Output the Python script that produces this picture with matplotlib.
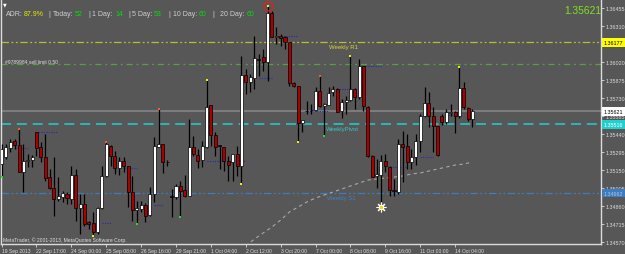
import matplotlib
matplotlib.use("Agg")
import matplotlib.pyplot as plt
import numpy as np
from matplotlib.transforms import blended_transform_factory

plt.rcParams['font.family'] = ['Liberation Sans', 'DejaVu Sans']

# ---------------- data (EURUSD-like H4 candles) ----------------
opens = [1.35196, 1.35251, 1.35323, 1.35380, 1.35352, 1.35134, 1.35221, 1.35229, 1.35452, 1.35331,
         1.35251, 1.35089, 1.35003, 1.34914, 1.34928, 1.34952, 1.34914, 1.35108, 1.34839, 1.34874,
         1.34726, 1.34718, 1.34645, 1.34839, 1.35097, 1.35344, 1.35263, 1.35162, 1.35218, 1.35178,
         1.34968, 1.34825, 1.34833, 1.34866, 1.34785, 1.34952, 1.35336, 1.35358, 1.35210, 1.34941,
         1.34928, 1.35016, 1.34987, 1.34936, 1.35331, 1.35269, 1.35231, 1.35334, 1.35673, 1.35431,
         1.35350, 1.35336, 1.35218, 1.35210, 1.35277, 1.35183, 1.35915, 1.35856, 1.35888, 1.36044,
         1.36058, 1.36017, 1.36415, 1.36224, 1.36227, 1.36224, 1.36179, 1.35850, 1.35824, 1.35525,
         1.35624, 1.35630, 1.35632, 1.35788, 1.35665, 1.35675, 1.35775, 1.35802, 1.35627, 1.35699,
         1.35713, 1.35802, 1.35735, 1.35990, 1.35654, 1.35263, 1.35102, 1.35110, 1.35223, 1.35175,
         1.34987, 1.34973, 1.35358, 1.35339, 1.35210, 1.35251, 1.35385, 1.35586, 1.35686, 1.35581,
         1.35501, 1.35586, 1.35533, 1.35608, 1.35614, 1.35581, 1.35810, 1.35646, 1.35560]
highs = [1.35358, 1.35358, 1.35398, 1.35398, 1.35479, 1.35358, 1.35277, 1.35269, 1.35457, 1.35372,
         1.35439, 1.35156, 1.35251, 1.35089, 1.34981, 1.34968, 1.35178, 1.35156, 1.34954, 1.34954,
         1.34739, 1.34807, 1.34847, 1.35183, 1.35376, 1.35350, 1.35304, 1.35251, 1.35251, 1.35178,
         1.35102, 1.34900, 1.34900, 1.34882, 1.35008, 1.35412, 1.35640, 1.35358, 1.35231, 1.34995,
         1.35035, 1.35062, 1.35108, 1.35560, 1.35425, 1.35318, 1.35385, 1.35874, 1.35673, 1.35452,
         1.35352, 1.35336, 1.35263, 1.35277, 1.35344, 1.36070, 1.35963, 1.35923, 1.36232, 1.36084,
         1.36125, 1.36474, 1.36431, 1.36300, 1.36246, 1.36232, 1.36179, 1.35856, 1.35824, 1.35554,
         1.35705, 1.35681, 1.35815, 1.35909, 1.35685, 1.35815, 1.35824, 1.35810, 1.35721, 1.35748,
         1.36070, 1.35807, 1.36044, 1.35990, 1.35667, 1.35269, 1.35237, 1.35269, 1.35277, 1.35183,
         1.35075, 1.35398, 1.35465, 1.35439, 1.35318, 1.35439, 1.35600, 1.35815, 1.35775, 1.35654,
         1.35506, 1.35600, 1.35640, 1.35681, 1.35627, 1.35977, 1.35856, 1.35654, 1.35640]
lows = [1.35092, 1.35237, 1.35291, 1.35318, 1.35130, 1.34968, 1.35170, 1.35170, 1.35263, 1.35210,
        1.35062, 1.34995, 1.34779, 1.34900, 1.34887, 1.34874, 1.34874, 1.34739, 1.34632, 1.34699,
        1.34672, 1.34618, 1.34632, 1.34833, 1.35089, 1.35183, 1.35116, 1.35108, 1.35130, 1.34847,
        1.34739, 1.34712, 1.34811, 1.34726, 1.34779, 1.34887, 1.35331, 1.35124, 1.35178, 1.34766,
        1.34914, 1.34766, 1.34928, 1.34936, 1.35263, 1.35162, 1.35170, 1.35326, 1.35344, 1.35263,
        1.35156, 1.35138, 1.35062, 1.35062, 1.35102, 1.35035, 1.35761, 1.35775, 1.35802, 1.35909,
        1.35949, 1.35869, 1.36219, 1.36165, 1.36151, 1.36125, 1.35828, 1.35815, 1.35372, 1.35457,
        1.35600, 1.35600, 1.35627, 1.35654, 1.35425, 1.35673, 1.35748, 1.35614, 1.35565, 1.35600,
        1.35707, 1.35640, 1.35721, 1.35627, 1.35251, 1.35089, 1.35000, 1.34887, 1.35130, 1.34941,
        1.34941, 1.34954, 1.35049, 1.35156, 1.35156, 1.35188, 1.35291, 1.35573, 1.35493, 1.35291,
        1.35263, 1.35511, 1.35519, 1.35586, 1.35447, 1.35565, 1.35640, 1.35546, 1.35493]
closes = [1.35318, 1.35331, 1.35376, 1.35352, 1.35134, 1.35218, 1.35229, 1.35251, 1.35326, 1.35255,
          1.35081, 1.35003, 1.34914, 1.34936, 1.34962, 1.34925, 1.35108, 1.34839, 1.34874, 1.34715,
          1.34712, 1.34650, 1.34841, 1.35097, 1.35358, 1.35263, 1.35162, 1.35223, 1.35178, 1.34968,
          1.34828, 1.34839, 1.34868, 1.34779, 1.34952, 1.35339, 1.35358, 1.35210, 1.35213, 1.34928,
          1.35021, 1.34981, 1.34936, 1.35331, 1.35275, 1.35223, 1.35339, 1.35656, 1.35431, 1.35331,
          1.35342, 1.35218, 1.35191, 1.35277, 1.35183, 1.35915, 1.35856, 1.35896, 1.36049, 1.36036,
          1.36017, 1.36415, 1.36224, 1.36227, 1.36211, 1.36179, 1.35850, 1.35824, 1.35525, 1.35554,
          1.35627, 1.35632, 1.35788, 1.35667, 1.35681, 1.35769, 1.35802, 1.35619, 1.35699, 1.35713,
          1.35802, 1.35735, 1.35990, 1.35667, 1.35263, 1.35094, 1.35116, 1.35223, 1.35178, 1.34987,
          1.34975, 1.35358, 1.35336, 1.35210, 1.35251, 1.35385, 1.35586, 1.35686, 1.35581, 1.35501,
          1.35272, 1.35533, 1.35619, 1.35619, 1.35581, 1.35810, 1.35654, 1.35560, 1.35621]

# moving average (dashed grey curve)
ma_idx = [56, 58, 60, 62, 64, 66, 68, 70, 72, 74, 76, 78, 80, 82, 84, 86, 88, 90, 92, 94, 96, 98,
          100, 102, 104, 106, 108]
ma_vals = [1.34535, 1.34591, 1.34640, 1.34688, 1.34744, 1.34809, 1.34849, 1.34890, 1.34922, 1.34946,
           1.34970, 1.34995, 1.35019, 1.35043, 1.35067, 1.35075, 1.35083, 1.35091, 1.35100, 1.35116,
           1.35124, 1.35140, 1.35156, 1.35172, 1.35188, 1.35196, 1.35213]

# short dotted pivot segments: start index, end index, level
seg_start = [3, 8, 23, 28, 35, 47, 59, 64, 70, 77, 83, 89, 96, 102]
seg_end = [6, 13, 25, 31, 37, 56, 62, 68, 75, 80, 87, 93, 99, 104]
seg_level = [1.35326, 1.35455, 1.34720, 1.35164, 1.34866, 1.35223, 1.35890, 1.36229, 1.35627,
             1.35802, 1.35990, 1.35172, 1.35253, 1.35592]

# marker dots
orange_high_idx = [4, 24, 36, 73]
yellow_high_idx = [47, 61, 80, 105]
yellow_low_idx = [21, 55, 68]
green_low_idx = [0, 31, 41, 74]
star_idx = 87
star_price = 1.34849

x_label_idx = [0, 8, 16, 24, 32, 40, 48, 56, 64, 72, 80, 88, 96, 104]
x_labels = ["19 Sep 2013", "22 Sep 17:00", "24 Sep 00:00", "25 Sep 08:00", "26 Sep 16:00",
            "29 Sep 21:00", "1 Oct 04:00", "2 Oct 12:00", "3 Oct 20:00", "7 Oct 00:00",
            "8 Oct 08:00", "9 Oct 16:00", "11 Oct 00:00", "14 Oct 04:00"]
y_ticks = [1.36455, 1.36310, 1.36020, 1.35875, 1.35730, 1.35585, 1.35440, 1.35295, 1.35150,
           1.35005, 1.34860, 1.34715, 1.34570]

weekly_r1 = 1.36177
sell_limit = 1.36000
bid = 1.35621
weekly_pivot = 1.35516
weekly_s1 = 1.34962

# ---------------- figure ----------------
W, H = 625, 255
BG = '#575757'
FG = '#dcdcdc'
fig = plt.figure(figsize=(W / 100, H / 100), dpi=100)
fig.patch.set_facecolor(BG)

left_px, right_px, bottom_px = 1.5, 601, 244.5
ax = fig.add_axes([left_px / W, (H - bottom_px) / H, (right_px - left_px) / W, bottom_px / H])
ax.set_facecolor(BG)
ax.set_xlim(-0.02, 137.48)
ax.set_ylim(1.34555, 1.36528)

for s in ['left', 'right', 'bottom']:
    ax.spines[s].set_color(FG)
    ax.spines[s].set_linewidth(1.0)
ax.spines['top'].set_visible(False)

# level lines
ax.axhline(weekly_r1, color='#bcbc30', lw=0.9, ls=(0, (6, 2, 1.5, 2, 1.5, 2)), zorder=1)
ax.axhline(sell_limit, color='#55a040', lw=0.9, ls=(0, (5, 3, 1.5, 3)), zorder=1)
ax.axhline(bid, color='#7c7c7c', lw=1.5, zorder=1)
ax.axhline(weekly_pivot, color='#20c8c8', lw=1.2, ls=(0, (6, 3.5)), zorder=1)
ax.axhline(weekly_s1, color='#3c7cc0', lw=0.9, ls=(0, (6, 2, 1.5, 2, 1.5, 2)), zorder=1)

# moving average
ax.plot(ma_idx, ma_vals, color='#a8a8a8', lw=0.8, ls=(0, (3, 3)), zorder=1.5)

# pivot segments
for s0, s1, lv in zip(seg_start, seg_end, seg_level):
    ax.plot([s0, s1], [lv, lv], color='#2626c0', lw=0.8, ls=(0, (1, 1.2)), zorder=2)

# candles
idx = np.arange(len(opens))
o = np.array(opens); c = np.array(closes)
hi = np.array(highs); lo = np.array(lows)
bull = c >= o
bot = np.minimum(o, c)
hgt = np.maximum(np.abs(c - o), 0.00002)
ax.vlines(idx, lo, hi, color='black', lw=0.9, zorder=3)
ax.bar(idx[bull], hgt[bull], bottom=bot[bull], width=0.7, color='white',
       edgecolor='black', lw=0.5, zorder=4)
ax.bar(idx[~bull], hgt[~bull], bottom=bot[~bull], width=0.7, color='#aa0000',
       edgecolor='black', lw=0.5, zorder=4)

# dots
ax.plot(orange_high_idx, hi[orange_high_idx], 's', color='#ff5a1e', ms=2.0, mew=0, zorder=5)
ax.plot(yellow_high_idx, hi[yellow_high_idx], 's', color='#f0f000', ms=2.0, mew=0, zorder=5)
ax.plot(yellow_low_idx, lo[yellow_low_idx], 's', color='#f0f000', ms=2.0, mew=0, zorder=5)
ax.plot(green_low_idx, lo[green_low_idx], 's', color='#20e020', ms=2.0, mew=0, zorder=5)
# red circle around the top
ax.plot([61], [hi[61]], 'o', mfc='none', mec='#e02020', ms=6.5, mew=1.0, zorder=6)
# sun symbol
ax.plot([star_idx], [star_price], marker=(8, 2, 0), color='white', ms=7, mew=0.8, zorder=6)
ax.plot([star_idx], [star_price], 'o', mfc='#f0e000', mec='white', ms=3.2, mew=0.6, zorder=7)

# axes ticks
ax.yaxis.tick_right()
ax.set_yticks(y_ticks)
ax.set_yticklabels([f"{v:.5f}" for v in y_ticks])
ax.tick_params(axis='y', colors=FG, labelsize=3.9, length=2, width=0.6, pad=1.5)
ax.set_xticks(x_label_idx)
ax.set_xticklabels(x_labels)
for lab in ax.get_xticklabels():
    lab.set_horizontalalignment('left')
ax.tick_params(axis='x', colors=FG, labelsize=3.6, length=2.5, width=0.6, pad=1)

# price labels on the axis
tr = blended_transform_factory(ax.transAxes, ax.transData)
for val, fc, tc in [(weekly_r1, '#ffff00', 'black'), (bid, 'white', 'black'),
                    (weekly_pivot, '#20d0d0', 'white'), (weekly_s1, '#3c7cc0', '#b0c4e0')]:
    ax.text(1.004, val, f"{val:.5f}", transform=tr, fontsize=3.9, color=tc, va='center', ha='left',
            bbox=dict(boxstyle='square,pad=0.35', fc=fc, ec='none'), clip_on=False, zorder=10)

# chart texts
def ftext(x, y, s, **kw):
    fig.text(x / W, 1 - y / H, s, va='center', ha='left', **kw)

ftext(329, 47.5, "Weekly R1", fontsize=4.3, color='#d8d830')
ftext(326, 129.5, "WeeklyPivot", fontsize=4.3, color='#30c8c8')
ftext(327, 198.5, "Weekly S1", fontsize=4.3, color='#3c80c8')
ftext(5, 62.3, "#9789984 sell limit 0.50", fontsize=3.6, color='#d8d8d8')
ftext(3, 240.5, "MetaTrader, \u00a9 2001-2013, MetaQuotes Software Corp.", fontsize=3.6, color='#e0e0e0')
ftext(564, 10.5, "1.35621", fontsize=7.4, color='#80e020')
fig.text(5 / W, 1 - 5 / H, "\u25bc", fontsize=3.5, color='white', ha='center', va='center',
         family=['DejaVu Sans'])

header = [(6, "ADR:", '#d0d0d0'), (24, "87.9%", '#e8e800'), (48, "|", '#d0d0d0'),
          (52.5, "Today:", '#d0d0d0'), (75, "52", '#00e000'), (88, "|", '#d0d0d0'),
          (92.5, "1 Day:", '#d0d0d0'), (115, "14", '#00e000'), (128, "|", '#d0d0d0'),
          (132.5, "5 Day:", '#d0d0d0'), (154, "53", '#00e000'), (168, "|", '#d0d0d0'),
          (172.5, "10 Day:", '#d0d0d0'), (198.5, "60", '#00e000'), (212.5, "|", '#d0d0d0'),
          (220, "20 Day:", '#d0d0d0'), (246.5, "60", '#00e000')]
for x, s, col in header:
    ftext(x, 14.3, s, fontsize=5.0, color=col)

fig.savefig("out.png", dpi=100, facecolor=BG)
